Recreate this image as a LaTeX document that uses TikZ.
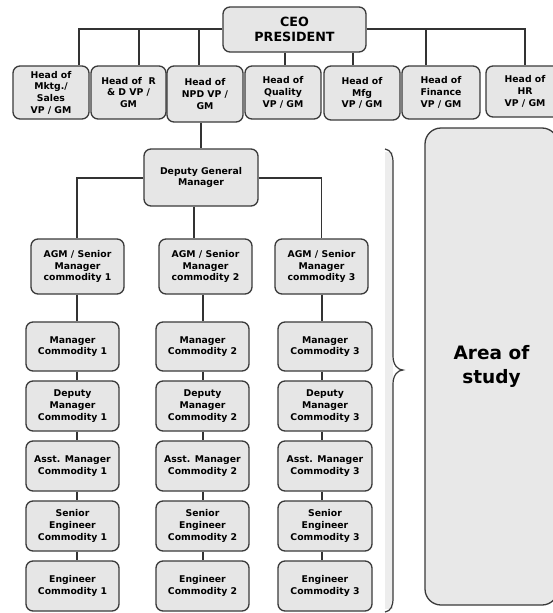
\documentclass[tikz,border=0pt]{standalone}
\usepackage{fontspec}
\setmainfont{DejaVu Sans}
\definecolor{boxfill}{HTML}{E6E6E6}
\definecolor{boxline}{HTML}{3A3A3A}
\definecolor{areafill}{HTML}{E8E8E8}
\definecolor{wire}{HTML}{333333}
\begin{document}
\begin{tikzpicture}[x=1pt,y=-1pt,
  box/.style={draw=boxline, fill=boxfill, line width=1.3pt, rounded corners=7pt,
    align=center, inner sep=0pt, text=black,
    font=\bfseries\fontsize{9.3}{11.7}\selectfont},
  link/.style={draw=wire, line width=1.2pt}]
\useasboundingbox (0,0) rectangle (553,613);
\fill[white] (0,0) rectangle (553,613);

% top of the chart
\node[box, minimum width=143pt, minimum height=45pt,
  font=\bfseries\fontsize{12.7}{15}\selectfont] (ceo) at (294.5,29.5) {CEO\\PRESIDENT};

\node[box, minimum width=76pt, minimum height=53pt] (mktg) at (51,92.5) {Head of\\Mktg./\\Sales\\VP / GM};
\node[box, minimum width=75pt, minimum height=53pt] (rnd) at (128.5,92.5) {Head of \ R\\\& D VP /\\GM};
\node[box, minimum width=76pt, minimum height=56pt] (npd) at (205,94) {Head of\\NPD VP /\\GM};
\node[box, minimum width=76pt, minimum height=53pt] (qual) at (283,92.5) {Head of\\Quality\\VP / GM};
\node[box, minimum width=76pt, minimum height=54pt] (mfg) at (362,93) {Head of\\Mfg\\VP / GM};
\node[box, minimum width=78pt, minimum height=53pt] (fin) at (441,92.5) {Head of\\Finance\\VP / GM};
\node[box, minimum width=78pt, minimum height=51pt] (hr) at (525,91.5) {Head of\\HR\\VP / GM};

% NPD branch
\node[box, minimum width=114pt, minimum height=57pt] (dgm) at (201,177.5) {Deputy General\\Manager};

\node[box, minimum width=93pt, minimum height=55pt] (agm1) at (77.5,266.5) {AGM / Senior\\Manager\\commodity 1};
\node[box, minimum width=93pt, minimum height=55pt] (agm2) at (205.5,266.5) {AGM / Senior\\Manager\\commodity 2};
\node[box, minimum width=93pt, minimum height=55pt] (agm3) at (321.5,266.5) {AGM / Senior\\Manager\\commodity 3};

\foreach \c/\x/\w in {1/72.5/93, 2/202.5/93, 3/325/94} {
  \node[box, minimum width=\w pt, minimum height=49pt] (mgr\c) at (\x,346.5) {Manager\\Commodity \c};
  \node[box, minimum width=\w pt, minimum height=50pt] (dep\c) at (\x,406) {Deputy\\Manager\\Commodity \c};
  \node[box, minimum width=\w pt, minimum height=50pt] (asst\c) at (\x,466) {Asst. Manager\\Commodity \c};
  \node[box, minimum width=\w pt, minimum height=50pt] (sen\c) at (\x,526) {Senior\\Engineer\\Commodity \c};
  \node[box, minimum width=\w pt, minimum height=50pt] (eng\c) at (\x,586) {Engineer\\Commodity \c};
}

% drop points of the connectors
\coordinate (bus) at (0,29);
\coordinate (dmktg) at (79,0);
\coordinate (drnd) at (139,0);
\coordinate (dnpd) at (199,0);
\coordinate (dqual) at (285,0);
\coordinate (dmfg) at (353,0);
\coordinate (dfin) at (426,0);
\coordinate (dhr) at (525,0);
\coordinate (dnpdout) at (201,0);
\coordinate (dmid) at (194,0);
\coordinate (branch) at (0,178);
\coordinate (col1) at (77,0);
\coordinate (col2) at (203,0);
\coordinate (col3) at (322,0);

% CEO to department heads
\draw[link] (ceo.west |- bus) -| (mktg.north -| dmktg);
\draw[link] (drnd |- bus) -- (rnd.north -| drnd);
\draw[link] (dnpd |- bus) -- (npd.north -| dnpd);
\draw[link] (ceo.south -| dqual) -- (qual.north -| dqual);
\draw[link] (ceo.south -| dmfg) -- (mfg.north -| dmfg);
\draw[link] (ceo.east |- bus) -| (hr.north -| dhr);
\draw[link] (dfin |- bus) -- (fin.north -| dfin);

% NPD to deputy general manager and commodity heads
\draw[link] (npd.south -| dnpdout) -- (dgm.north -| dnpdout);
\draw[link] (dgm.west |- branch) -| (agm1.north -| col1);
\draw[link] (dgm.east |- branch) -| (agm3.north);
\draw[link] (dgm.south -| dmid) -- (agm2.north -| dmid);

% commodity columns
\foreach \c in {1,2,3} {
  \draw[link] (agm\c.south -| col\c) -- (mgr\c.north -| col\c);
  \draw[link] (mgr\c.south -| col\c) -- (dep\c.north -| col\c);
  \draw[link] (dep\c.south -| col\c) -- (asst\c.north -| col\c);
  \draw[link] (asst\c.south -| col\c) -- (sen\c.north -| col\c);
  \draw[link] (sen\c.south -| col\c) -- (eng\c.north -| col\c);
}

% brace grouping the commodity levels
\fill[black!7] (385,152) rectangle (393,609);
\draw[draw=boxline, line width=1.2pt]
  (385,149) .. controls (391,150) and (393,155) .. (393,163)
  -- (393,356) .. controls (393,365) and (398,370) .. (403,370)
  .. controls (398,370) and (393,375) .. (393,384)
  -- (393,598) .. controls (393,606) and (391,611) .. (385,612);

% area of study panel
\node[draw=boxline, fill=areafill, line width=1.3pt, rounded corners=16pt,
  minimum width=133pt, minimum height=477pt, inner sep=0pt, align=center,
  font=\bfseries\fontsize{18.5}{24}\selectfont] (area) at (491.5,366.5) {Area of\\study};
\end{tikzpicture}
\end{document}
